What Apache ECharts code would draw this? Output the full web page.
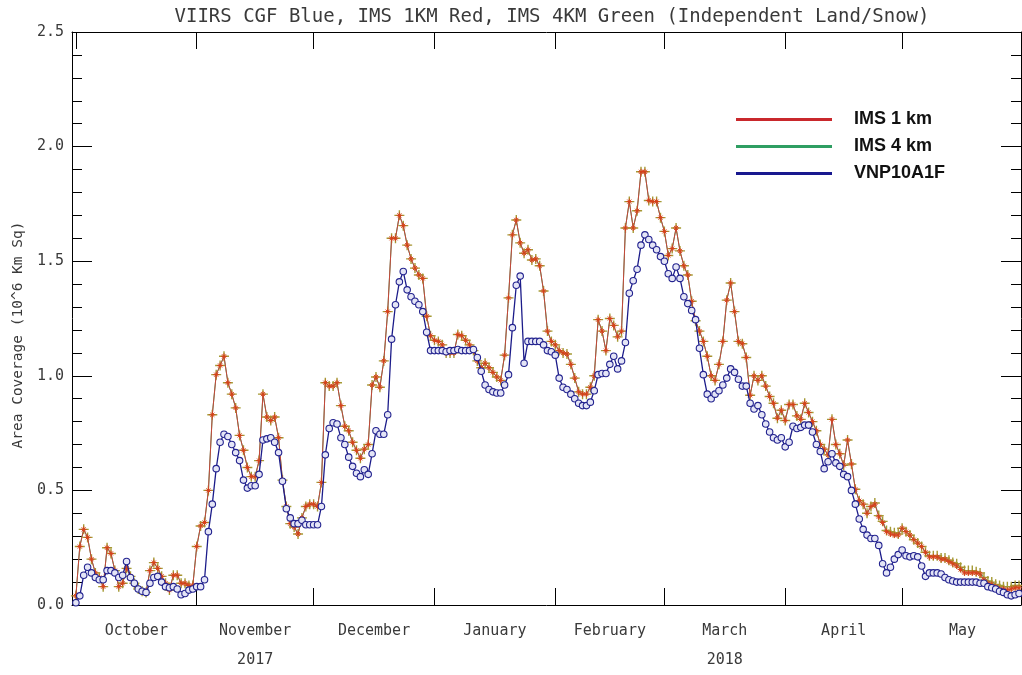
<!DOCTYPE html>
<html>
<head>
<meta charset="utf-8">
<title>Snow cover area, VIIRS CGF vs IMS</title>
<script src="https://cdn.jsdelivr.net/npm/echarts@6/dist/echarts.min.js"></script>
<style>
  html, body { margin: 0; padding: 0; background: #ffffff; }
  #chart { width: 1022px; height: 675px; }
</style>
</head>
<body>
<div id="chart"></div>
<script>
// Daily snow-covered area, 10^6 km^2, starting 1 October 2017 (one value per day)
const seriesStart = '2017-10-01';

const imsOneKm = [
  // October
  0.04, 0.255, 0.33, 0.295, 0.20, 0.14, 0.12, 0.08, 0.25, 0.225, 0.15, 0.08, 0.095, 0.16, 0.125, 0.095,
  0.07, 0.06, 0.055, 0.15, 0.185, 0.16, 0.125, 0.095, 0.065, 0.13, 0.13, 0.095, 0.095, 0.085, 0.085,
  // November
  0.255, 0.345, 0.36, 0.50, 0.83, 1.005, 1.045, 1.085, 0.97, 0.92, 0.86, 0.74, 0.675, 0.60, 0.56,
  0.56, 0.63, 0.92, 0.82, 0.805, 0.82, 0.73, 0.545, 0.43, 0.355, 0.34, 0.31, 0.38, 0.43, 0.44,
  // December
  0.44, 0.43, 0.535, 0.97, 0.955, 0.955, 0.97, 0.87, 0.78, 0.76, 0.71, 0.675, 0.64, 0.68, 0.70, 0.96,
  0.995, 0.95, 1.065, 1.28, 1.60, 1.60, 1.70, 1.655, 1.57, 1.51, 1.47, 1.44, 1.425, 1.26, 1.175,
  // January
  1.155, 1.15, 1.135, 1.10, 1.10, 1.10, 1.18, 1.175, 1.155, 1.135, 1.11, 1.065, 1.035, 1.055, 1.035, 1.015,
  0.995, 0.98, 1.09, 1.34, 1.615, 1.68, 1.58, 1.535, 1.55, 1.505, 1.51, 1.48, 1.37, 1.195, 1.15,
  // February
  1.135, 1.11, 1.10, 1.095, 1.05, 0.99, 0.93, 0.92, 0.92, 0.95, 1.0, 1.245, 1.195, 1.11,
  1.25, 1.22, 1.17, 1.195, 1.645, 1.76, 1.645, 1.72, 1.89, 1.89, 1.765, 1.76, 1.76, 1.69,
  // March
  1.63, 1.525, 1.555, 1.645, 1.545, 1.48, 1.44, 1.325, 1.24, 1.195, 1.15, 1.085, 1.0, 0.98, 1.05, 1.15,
  1.33, 1.405, 1.28, 1.15, 1.14, 1.08, 0.915, 1.0, 0.98, 1.0, 0.955, 0.91, 0.88, 0.815, 0.85,
  // April
  0.805, 0.875, 0.875, 0.825, 0.81, 0.88, 0.84, 0.80, 0.76, 0.70, 0.68, 0.655, 0.81, 0.70, 0.66,
  0.61, 0.72, 0.615, 0.505, 0.455, 0.44, 0.40, 0.43, 0.44, 0.385, 0.36, 0.32, 0.31, 0.305, 0.305,
  // May
  0.335, 0.32, 0.305, 0.285, 0.27, 0.255, 0.23, 0.21, 0.21, 0.21, 0.20, 0.20, 0.19, 0.18, 0.17, 0.155,
  0.14, 0.14, 0.14, 0.14, 0.135, 0.11, 0.095, 0.09, 0.08, 0.07, 0.07, 0.065, 0.07, 0.075, 0.075
];

const imsFourKm = [
  // October
  0.04, 0.255, 0.33, 0.295, 0.20, 0.14, 0.12, 0.08, 0.25, 0.225, 0.15, 0.08, 0.095, 0.16, 0.125, 0.095,
  0.07, 0.06, 0.055, 0.15, 0.185, 0.16, 0.125, 0.095, 0.065, 0.13, 0.13, 0.095, 0.095, 0.085, 0.085,
  // November
  0.255, 0.345, 0.36, 0.50, 0.83, 1.005, 1.045, 1.085, 0.97, 0.92, 0.86, 0.74, 0.675, 0.60, 0.56,
  0.56, 0.63, 0.92, 0.82, 0.805, 0.82, 0.73, 0.545, 0.43, 0.355, 0.34, 0.31, 0.38, 0.43, 0.44,
  // December
  0.44, 0.43, 0.535, 0.97, 0.955, 0.955, 0.97, 0.87, 0.78, 0.76, 0.71, 0.675, 0.64, 0.68, 0.70, 0.96,
  0.995, 0.95, 1.065, 1.28, 1.60, 1.60, 1.70, 1.655, 1.57, 1.51, 1.47, 1.44, 1.425, 1.26, 1.175,
  // January
  1.155, 1.15, 1.135, 1.10, 1.10, 1.10, 1.18, 1.175, 1.155, 1.135, 1.11, 1.065, 1.035, 1.055, 1.035, 1.015,
  0.995, 0.98, 1.09, 1.34, 1.615, 1.68, 1.58, 1.535, 1.55, 1.505, 1.51, 1.48, 1.37, 1.195, 1.15,
  // February
  1.135, 1.11, 1.10, 1.095, 1.05, 0.99, 0.93, 0.92, 0.92, 0.95, 1.0, 1.245, 1.195, 1.11,
  1.25, 1.22, 1.17, 1.195, 1.645, 1.76, 1.645, 1.72, 1.89, 1.89, 1.765, 1.76, 1.76, 1.69,
  // March
  1.63, 1.525, 1.555, 1.645, 1.545, 1.48, 1.44, 1.325, 1.24, 1.195, 1.15, 1.085, 1.0, 0.98, 1.05, 1.15,
  1.33, 1.405, 1.28, 1.15, 1.14, 1.08, 0.915, 1.0, 0.98, 1.0, 0.955, 0.91, 0.88, 0.815, 0.85,
  // April
  0.805, 0.875, 0.875, 0.825, 0.81, 0.88, 0.84, 0.80, 0.76, 0.70, 0.68, 0.655, 0.81, 0.70, 0.66,
  0.61, 0.72, 0.615, 0.505, 0.455, 0.44, 0.40, 0.43, 0.445, 0.39, 0.365, 0.325, 0.32, 0.315, 0.31,
  // May
  0.335, 0.32, 0.305, 0.285, 0.27, 0.255, 0.23, 0.215, 0.215, 0.215, 0.205, 0.205, 0.195, 0.185, 0.18, 0.165,
  0.15, 0.15, 0.15, 0.145, 0.14, 0.12, 0.105, 0.10, 0.09, 0.085, 0.08, 0.08, 0.08, 0.085, 0.085
];

const vnp10a1f = [
  // October
  0.01, 0.04, 0.13, 0.165, 0.14, 0.12, 0.11, 0.11, 0.15, 0.15, 0.14, 0.12, 0.13, 0.19, 0.12, 0.095,
  0.07, 0.06, 0.055, 0.095, 0.12, 0.125, 0.10, 0.08, 0.075, 0.08, 0.07, 0.045, 0.05, 0.065, 0.07,
  // November
  0.08, 0.08, 0.11, 0.32, 0.44, 0.595, 0.71, 0.745, 0.735, 0.70, 0.665, 0.63, 0.545, 0.51, 0.52,
  0.52, 0.57, 0.72, 0.725, 0.73, 0.71, 0.665, 0.54, 0.42, 0.38, 0.355, 0.355, 0.37, 0.35, 0.35,
  // December
  0.35, 0.35, 0.43, 0.655, 0.77, 0.795, 0.79, 0.73, 0.70, 0.645, 0.605, 0.575, 0.56, 0.59, 0.57, 0.66,
  0.76, 0.745, 0.745, 0.83, 1.16, 1.31, 1.41, 1.455, 1.375, 1.345, 1.325, 1.31, 1.28, 1.19, 1.11,
  // January
  1.11, 1.11, 1.11, 1.105, 1.11, 1.11, 1.115, 1.11, 1.11, 1.11, 1.115, 1.08, 1.02, 0.96, 0.94, 0.93,
  0.925, 0.925, 0.96, 1.005, 1.21, 1.395, 1.435, 1.055, 1.15, 1.15, 1.15, 1.15, 1.135, 1.11, 1.105,
  // February
  1.09, 0.99, 0.95, 0.94, 0.92, 0.90, 0.88, 0.87, 0.87, 0.885, 0.935, 1.005, 1.01, 1.01,
  1.05, 1.085, 1.03, 1.065, 1.145, 1.36, 1.415, 1.465, 1.57, 1.615, 1.595, 1.57, 1.55, 1.52,
  // March
  1.50, 1.445, 1.425, 1.475, 1.425, 1.345, 1.315, 1.285, 1.245, 1.12, 1.005, 0.92, 0.90, 0.92, 0.935, 0.96,
  0.99, 1.03, 1.015, 0.985, 0.955, 0.955, 0.88, 0.855, 0.87, 0.83, 0.79, 0.755, 0.73, 0.72, 0.73,
  // April
  0.69, 0.71, 0.78, 0.77, 0.775, 0.785, 0.785, 0.755, 0.70, 0.67, 0.595, 0.625, 0.66, 0.62, 0.605,
  0.57, 0.56, 0.50, 0.44, 0.375, 0.33, 0.305, 0.29, 0.29, 0.26, 0.18, 0.14, 0.165, 0.20, 0.22,
  // May
  0.24, 0.215, 0.21, 0.215, 0.21, 0.17, 0.125, 0.14, 0.14, 0.14, 0.135, 0.12, 0.11, 0.105, 0.10, 0.10,
  0.10, 0.10, 0.10, 0.10, 0.095, 0.095, 0.08, 0.075, 0.07, 0.06, 0.055, 0.045, 0.04, 0.045, 0.05
];

// Axis text
const monthNames = ['October', 'November', 'December', 'January', 'February', 'March', 'April', 'May'];
const yearLabels = ['', '2017', '', '', '', '2018', '', ''];
const monthStarts = ['2017-10-01', '2017-11-01', '2017-12-01', '2018-01-01', '2018-02-01',
                     '2018-03-01', '2018-04-01', '2018-05-01', '2018-06-01'];
const yTickValues = [0.0, 0.5, 1.0, 1.5, 2.0, 2.5];

const titleText = 'VIIRS CGF Blue, IMS 1KM Red, IMS 4KM Green (Independent Land/Snow)';
const yAxisTitle = 'Area Coverage (10^6 Km Sq)';

// ---------------------------------------------------------------------------
// The x axis is a plain value axis in UTC milliseconds, so month boundaries
// and mid-month label slots can be placed with customValues.
const DAY = 86400000;
const utc = s => Date.parse(s + 'T00:00:00Z');
const t0 = utc(seriesStart);
const toPairs = vals => vals.map((v, i) => [t0 + i * DAY, v]);

const monthTicks = monthStarts.slice(0, monthNames.length).map(utc);
const monthMids = monthNames.map((_, i) => (utc(monthStarts[i]) + utc(monthStarts[i + 1])) / 2);
const xMin = utc('2017-09-30');
const xMax = utc('2018-05-31') + DAY / 2;

function monthLabel(value) {
  let best = 0;
  for (let i = 1; i < monthMids.length; i++) {
    if (Math.abs(monthMids[i] - value) < Math.abs(monthMids[best] - value)) best = i;
  }
  return yearLabels[best] ? monthNames[best] + '\n' + yearLabels[best] : monthNames[best];
}

const plotFont = 'DejaVu Sans Mono';
const inkColor = '#000000';
const textColor = '#3a3a3a';

const plusPath = 'path://M5,0L5,10M0,5L10,5';
const starPath = 'path://M5,0L5,10M0,5L10,5M1.6,1.6L8.4,8.4M8.4,1.6L1.6,8.4';

function dateAxis(position, showLabels) {
  return {
    type: 'value',
    position: position,
    min: xMin,
    max: xMax,
    scale: true,
    axisLine: { show: true, onZero: false, lineStyle: { color: inkColor, width: 1 } },
    axisTick: {
      show: true, inside: true, length: 17,
      customValues: monthTicks,
      lineStyle: { color: inkColor, width: 1 }
    },
    axisLabel: {
      show: showLabels,
      customValues: monthMids,
      formatter: monthLabel,
      fontFamily: plotFont,
      fontSize: 15,
      lineHeight: 29,
      color: textColor,
      margin: 12
    },
    splitLine: { show: false },
    minorTick: { show: false }
  };
}

function valueAxis(position, showLabels) {
  return {
    type: 'value',
    position: position,
    min: yTickValues[0],
    max: yTickValues[yTickValues.length - 1],
    interval: yTickValues[1] - yTickValues[0],
    axisLine: { show: true, lineStyle: { color: inkColor, width: 1 } },
    axisTick: { show: true, inside: true, length: 20, lineStyle: { color: inkColor, width: 1 } },
    minorTick: { show: true, splitNumber: 5, length: 10, lineStyle: { color: inkColor, width: 1 } },
    axisLabel: {
      show: showLabels,
      formatter: v => v.toFixed(1),
      fontFamily: plotFont,
      fontSize: 15,
      color: textColor,
      margin: 8
    },
    splitLine: { show: false }
  };
}

const chart = echarts.init(document.getElementById('chart'), null, { renderer: 'canvas' });

chart.setOption({
  animation: false,
  backgroundColor: '#ffffff',
  title: {
    text: titleText,
    left: 547,
    top: 3,
    textAlign: 'center',
    textStyle: { fontFamily: plotFont, fontSize: 19, fontWeight: 'normal', color: textColor }
  },
  grid: { left: 72, right: 1, top: 32, bottom: 65, containLabel: false },
  xAxis: [dateAxis('bottom', true), dateAxis('top', false)],
  yAxis: [valueAxis('left', true), valueAxis('right', false)],
  legend: {
    orient: 'vertical',
    left: 731,
    top: 104,
    icon: 'rect',
    itemWidth: 96,
    itemHeight: 3,
    itemGap: 6,
    selectedMode: false,
    textStyle: {
      fontFamily: 'Liberation Sans',
      fontWeight: 'bold',
      fontSize: 18,
      lineHeight: 21,
      color: '#111111',
      padding: [0, 0, 0, 17]
    },
    data: [
      { name: 'IMS 1 km', itemStyle: { color: '#c9282c', borderWidth: 0 } },
      { name: 'IMS 4 km', itemStyle: { color: '#2e9e62', borderWidth: 0 } },
      { name: 'VNP10A1F', itemStyle: { color: '#18188f', borderWidth: 0 } }
    ]
  },
  graphic: [{
    type: 'text',
    rotation: Math.PI / 2,
    x: 18,
    y: 335,
    style: {
      text: yAxisTitle,
      fontFamily: plotFont,
      fontSize: 14.5,
      fill: textColor,
      align: 'center',
      verticalAlign: 'middle'
    }
  }],
  series: [
    {
      name: 'IMS 4 km',
      type: 'line',
      data: toPairs(imsFourKm),
      symbol: plusPath,
      symbolSize: 10,
      showSymbol: true,
      showAllSymbol: true,
      lineStyle: { color: '#3aa05a', width: 1 },
      itemStyle: { color: '#a59a35', borderColor: '#a59a35', borderWidth: 1.4 },
      emphasis: { disabled: true },
      z: 2
    },
    {
      name: 'IMS 1 km',
      type: 'line',
      data: toPairs(imsOneKm),
      symbol: starPath,
      symbolSize: 6,
      showSymbol: true,
      showAllSymbol: true,
      lineStyle: { color: '#c8463a', width: 1 },
      itemStyle: { color: '#d8401c', borderColor: '#d8401c', borderWidth: 1 },
      emphasis: { disabled: true },
      z: 3
    },
    {
      name: 'VNP10A1F',
      type: 'line',
      data: toPairs(vnp10a1f),
      symbol: 'circle',
      symbolSize: 6.5,
      showSymbol: true,
      showAllSymbol: true,
      lineStyle: { color: '#1c1c8a', width: 1.3 },
      itemStyle: { color: '#e4e5f6', borderColor: '#23238f', borderWidth: 1.1 },
      emphasis: { disabled: true },
      z: 4
    }
  ]
});
</script>
</body>
</html>
